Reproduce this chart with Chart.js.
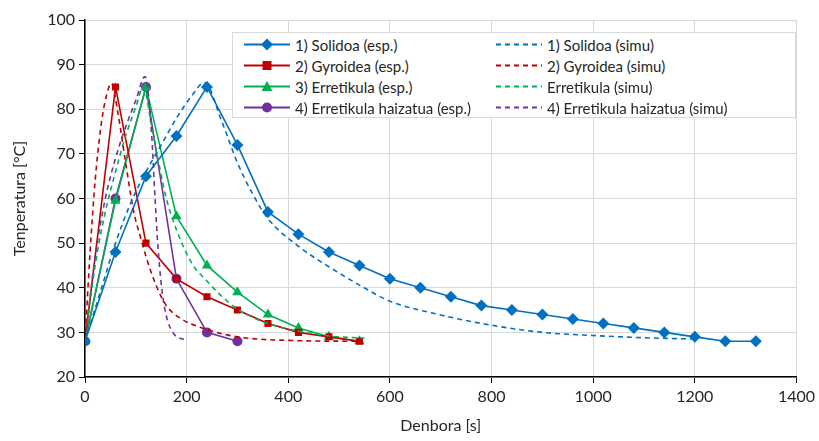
<!DOCTYPE html>
<html>
<head>
<meta charset="utf-8">
<script src="https://cdn.jsdelivr.net/npm/chart.js@4.4.1/dist/chart.umd.min.js"></script>
<style>
  body { margin: 0; background: #fff; font-family: Lato, sans-serif; }
  #wrap { position: relative; width: 819px; height: 441px; }
  #legend {
    position: absolute; left: 232px; top: 32px; width: 562px; height: 84px;
    background: #fff; border: 1px solid #d9d9d9; font-size: 15px; color: #262626;
  }
  .item { position: absolute; height: 21px; display: flex; align-items: center; white-space: nowrap; }
  .item canvas { margin-right: 4px; }
</style>
</head>
<body>
<div id="wrap">
  <canvas id="chart" width="819" height="441"></canvas>
  <div id="legend"></div>
</div>
<script>
// esperimentuak (60 s-ro)
const tSolidoa = [0,60,120,180,240,300,360,420,480,540,600,660,720,780,840,900,960,1020,1080,1140,1200,1260,1320];
const solidoaEsp = [28,48,65,74,85,72,57,52,48,45,42,40,38,36,35,34,33,32,31,30,29,28,28];
const tShort = [0,60,120,180,240,300,360,420,480,540];
const gyroideaEsp = [28,85,50,42,38,35,32,30,29,28];
const erretikulaEsp = [28,59.5,85,56,45,39,34,31,29,28];
const tHaizatua = [0,60,120,180,240,300];
const haizatuaEsp = [28,60,85,42,30,28];

// simulazioak
const tSolidoaSim = [0,30,60,90,120,150,180,210,235,270,300,330,360,420,480,540,600,700,800,900,1000,1100,1200];
const solidoaSim = [28,39,50,59,66,72,78,83,86,77,68,61,55.5,49.3,44.7,40.6,37,33.9,31.6,30,29.3,28.8,28.5];
const tGyroideaSim = [0,10,20,30,40,52,65,80,95,110,120,140,160,190,230,300,400,540];
const gyroideaSim = [28,48,64,75,82,85.8,79,68,57.5,51,47,40.5,36,33,31,29,28.2,28];
const tErretikulaSim = [0,20,40,60,80,100,115,130,145,160,180,210,240,270,300,360,420,480,550];
const erretikulaSim = [28,45,57,66,74,80.5,85,77,68,60,53,45.5,41.5,38,35.2,32,30.3,29.2,28.7];
const tHaizatuaSim = [0,20,40,60,80,100,118,131,138,144,154,174,200];
const haizatuaSim = [28,47,60,69,76,82,87.3,74.6,59.7,48.5,37.3,29.8,28.3];

const xTicks = [0,200,400,600,800,1000,1200,1400];
const yTicks = [20,30,40,50,60,70,80,90,100];

const colors = { blue: '#0070c0', red: '#c00000', green: '#00b050', purple: '#7030a0' };

function pts(xs, ys) {
    return xs.map((x, i) => ({x: x, y: ys[i]}));
}

function esp(label, xs, ys, color, marker) {
    return {
        label: label, data: pts(xs, ys), showLine: true,
        borderColor: color, backgroundColor: color, borderWidth: 1.6,
        pointStyle: marker, pointRadius: marker === 'rectRot' ? 6 : (marker === 'triangle' ? 6 : 5),
        pointBorderWidth: 0, tension: 0
    };
}

function simu(label, xs, ys, color) {
    return {
        label: label, data: pts(xs, ys), showLine: true,
        borderColor: color, backgroundColor: color, borderWidth: 1.6,
        borderDash: [5, 4], pointRadius: 0, cubicInterpolationMode: 'monotone'
    };
}

const datasets = [
    simu('1) Solidoa (simu)', tSolidoaSim, solidoaSim, colors.blue),
    simu('2) Gyroidea (simu)', tGyroideaSim, gyroideaSim, colors.red),
    simu('Erretikula (simu)', tErretikulaSim, erretikulaSim, colors.green),
    simu('4) Erretikula haizatua (simu)', tHaizatuaSim, haizatuaSim, colors.purple),
    esp('1) Solidoa (esp.)', tSolidoa, solidoaEsp, colors.blue, 'rectRot'),
    esp('2) Gyroidea (esp.)', tShort, gyroideaEsp, colors.red, 'rect'),
    esp('3) Erretikula (esp.)', tShort, erretikulaEsp, colors.green, 'triangle'),
    esp('4) Erretikula haizatua (esp.)', tHaizatua, haizatuaEsp, colors.purple, 'circle')
];

const font = { family: 'Lato, sans-serif', size: 16 };

new Chart(document.getElementById('chart'), {
    type: 'scatter',
    data: { datasets: datasets },
    options: {
        responsive: false,
        animation: false,
        layout: { padding: { top: 20, right: 22, left: 0, bottom: 0 } },
        plugins: { legend: { display: false }, tooltip: { enabled: false } },
        scales: {
            x: {
                min: 0, max: 1400,
                afterBuildTicks: s => { s.ticks = xTicks.map(v => ({value: v})); },
                afterFit: s => { s.height = 64; },
                grid: { color: '#d9d9d9', tickColor: '#000', tickLength: 6 },
                border: { color: '#000', width: 1.5 },
                ticks: { color: '#262626', font: font, padding: 4, callback: v => String(v) },
                title: { display: true, text: 'Denbora [s]', color: '#262626', font: font, padding: { top: 0, bottom: 6 } }
            },
            y: {
                min: 20, max: 100,
                afterBuildTicks: s => { s.ticks = yTicks.map(v => ({value: v})); },
                afterFit: s => { s.width = 85; },
                grid: { color: '#d9d9d9', tickColor: '#000', tickLength: 6 },
                border: { color: '#000', width: 1.5 },
                ticks: { color: '#262626', font: font, padding: 4, callback: v => String(v) },
                title: { display: true, text: 'Tenperatura [°C]', color: '#262626', font: font, padding: { top: 10, bottom: 0 } }
            }
        }
    }
});

// legenda, bi zutabe
const legendRows = [
    [datasets[4], datasets[0]],
    [datasets[5], datasets[1]],
    [datasets[6], datasets[2]],
    [datasets[7], datasets[3]]
];
const legendEl = document.getElementById('legend');
legendRows.forEach((row, r) => {
    row.forEach((ds, c) => {
        const item = document.createElement('div');
        item.className = 'item';
        item.style.top = (1 + r * 21) + 'px';
        item.style.left = (c === 0 ? 10 : 262) + 'px';
        const cv = document.createElement('canvas');
        cv.width = 48; cv.height = 21;
        const ctx = cv.getContext('2d');
        ctx.strokeStyle = ds.borderColor;
        ctx.lineWidth = 1.8;
        if (ds.borderDash) ctx.setLineDash([5, 4]);
        ctx.beginPath(); ctx.moveTo(1, 10.5); ctx.lineTo(47, 10.5); ctx.stroke();
        ctx.setLineDash([]);
        ctx.fillStyle = ds.borderColor;
        if (!ds.borderDash) {
            ctx.beginPath();
            if (ds.pointStyle === 'rectRot') {
                ctx.moveTo(24, 4.5); ctx.lineTo(30, 10.5); ctx.lineTo(24, 16.5); ctx.lineTo(18, 10.5);
            } else if (ds.pointStyle === 'rect') {
                ctx.rect(19.5, 6, 9, 9);
            } else if (ds.pointStyle === 'triangle') {
                ctx.moveTo(24, 5); ctx.lineTo(29.5, 15); ctx.lineTo(18.5, 15);
            } else {
                ctx.arc(24, 10.5, 5, 0, Math.PI * 2);
            }
            ctx.closePath(); ctx.fill();
        }
        const span = document.createElement('span');
        span.textContent = ds.label;
        item.appendChild(cv);
        item.appendChild(span);
        legendEl.appendChild(item);
    });
});
</script>
</body>
</html>
